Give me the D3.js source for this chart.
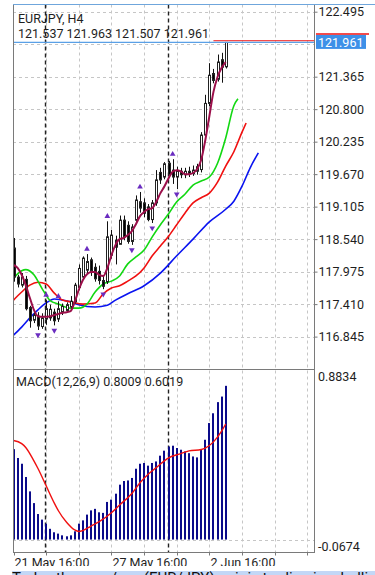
<!DOCTYPE html>
<html>
<head>
<meta charset="utf-8">
<script src="https://cdnjs.cloudflare.com/ajax/libs/d3/7.8.5/d3.min.js"></script>
<style>
  html, body { margin: 0; padding: 0; background: #fff; overflow: hidden; }
  svg { display: block; font-family: Roboto, "Noto Sans", sans-serif; }
</style>
</head>
<body>
<div id="chart"></div>
<script>
// header texts
var symbolLabel = 'EURJPY, H4';
var quoteLabel  = '121.537 121.963 121.507 121.961';
var macdLabel   = 'MACD(12,26,9) 0.8009 0.6019';
var newsLine    = 'Today the euro/yen (EUR/JPY) pair is trading in a bullish direction after';

// H4 candles, bar 0 = 21 May 16:00
var opens  = [118.385,117.88,117.74,117.84,117.35,117.13,117.20,117.02,117.15,117.17,
              117.27,117.15,117.28,117.30,117.36,117.45,117.70,117.88,118.00,118.18,
              118.05,117.98,117.82,117.80,118.26,118.52,118.45,118.87,118.78,118.50,
              118.87,119.19,119.17,119.10,118.88,119.17,119.70,119.62,119.86,119.74,
              119.62,119.72,119.66,119.72,119.68,119.72,119.75,120.35,120.90,121.42,
              121.32,121.66,121.537];
var highs  = [118.56,117.92,117.95,117.90,117.38,117.27,117.27,117.25,117.48,117.40,
              117.33,117.46,117.42,117.44,117.55,117.78,118.10,118.24,118.28,118.22,
              118.12,118.08,117.90,118.85,118.70,118.60,118.95,118.95,118.85,118.80,
              119.30,119.36,119.25,119.15,119.22,119.74,119.78,119.88,119.90,119.93,
              119.80,119.78,119.78,119.80,119.82,119.85,120.40,121.05,121.60,121.50,
              121.75,121.78,121.963];
var lows   = [117.80,117.70,117.70,117.30,117.00,117.08,116.96,116.98,117.05,117.12,
              117.04,117.10,117.22,117.26,117.32,117.42,117.65,117.83,117.95,117.90,
              117.80,117.75,117.67,117.76,118.20,118.10,118.45,118.52,118.46,118.44,
              118.80,119.00,118.92,118.85,118.82,119.12,119.50,119.58,119.60,119.50,
              119.41,119.60,119.60,119.62,119.64,119.66,119.70,120.30,120.85,121.25,
              121.28,121.26,121.507];
var closes = [117.88,117.76,117.88,117.33,117.12,117.22,117.03,117.17,117.33,117.32,
              117.12,117.33,117.37,117.40,117.46,117.74,118.03,118.21,118.15,117.98,
              117.85,117.82,117.72,118.58,118.61,118.40,118.87,118.58,118.50,118.75,
              119.22,119.08,118.99,118.88,119.17,119.57,119.57,119.85,119.66,119.62,
              119.72,119.66,119.72,119.68,119.74,119.80,120.35,120.90,121.39,121.30,
              121.62,121.53,121.961];

// smoothed close line (one value per bar)
var trendLine = [118.09,118.04,117.92,117.74,117.52,117.31,117.20,117.19,117.19,117.20,
                 117.22,117.24,117.26,117.27,117.29,117.45,117.66,117.83,117.93,117.97,
                 117.97,117.92,117.90,118.04,118.26,118.44,118.54,118.56,118.61,118.68,
                 118.80,118.94,119.01,119.06,119.08,119.19,119.34,119.46,119.60,119.71,
                 119.74,119.72,119.67,119.67,119.69,119.76,119.92,120.26,120.68,121.10,
                 121.36,121.52,121.62];

// alligator lines, [bar, price] (shifted forward past the last bar)
var jawLine   = [[0,116.87],[2,117.01],[4,117.17],[6,117.31],[8,117.43],[10,117.50],[12,117.48],
                 [14,117.45],[16,117.40],[20,117.36],[23,117.39],[25,117.48],[28,117.59],[32,117.73],
                 [36,117.95],[40,118.25],[44,118.54],[48,118.84],[52,119.06],[54,119.20],[56,119.46],
                 [58,119.78],[60,120.04]];
var teethLine = [[0,117.48],[2,117.62],[4,117.74],[6,117.79],[8,117.76],[10,117.60],[12,117.48],
                 [14,117.45],[17,117.41],[20,117.43],[22,117.59],[24,117.69],[26,117.73],[28,117.81],
                 [30,117.90],[32,118.04],[34,118.25],[36,118.42],[38,118.59],[40,118.79],[42,118.99],
                 [44,119.17],[46,119.26],[48,119.34],[50,119.53],[52,119.81],[54,120.06],[56,120.40],
                 [57,120.56]];
var lipsLine  = [[0,117.86],[2,117.99],[3,118.01],[5,117.92],[7,117.68],[9,117.47],[11,117.41],
                 [14,117.34],[16,117.34],[18,117.41],[20,117.62],[22,117.76],[24,117.81],[26,117.90],
                 [28,118.11],[30,118.23],[32,118.35],[34,118.58],[36,118.79],[38,118.98],[40,119.19],
                 [42,119.32],[44,119.48],[46,119.55],[48,119.62],[50,119.86],[52,120.30],[54,120.86],
                 [55,120.98]];

// fractal bars
var upFractals   = [8, 11, 18, 23, 31, 39];
var downFractals = [6, 10, 22, 29, 34, 40];

// MACD histogram (one per bar) and signal [bar, value]
var macdHist = [0.471,0.425,0.395,0.326,0.251,0.190,0.133,0.104,0.083,0.056,
                0.038,0.031,0.022,0.017,0.022,0.043,0.083,0.100,0.130,0.152,
                0.160,0.142,0.139,0.196,0.208,0.239,0.286,0.305,0.308,0.321,
                0.369,0.395,0.399,0.385,0.399,0.407,0.437,0.463,0.485,0.489,
                0.477,0.468,0.459,0.450,0.433,0.428,0.468,0.520,0.607,0.658,
                0.716,0.745,0.8009];
var macdSignal = [[0,0.516],[2,0.500],[3,0.480],[5,0.410],[6,0.370],[8,0.280],[10,0.190],
                  [11,0.150],[13,0.090],[15,0.050],[16,0.042],[17,0.047],[19,0.070],[21,0.093],
                  [24,0.140],[26,0.180],[29,0.240],[31,0.296],[33,0.340],[35,0.375],[38,0.426],
                  [41,0.448],[43,0.462],[46,0.469],[47,0.476],[49,0.509],[51,0.565],[52,0.6019]];

// axes
var priceGrid    = [122.495,121.930,121.365,120.800,120.235,119.670,119.105,118.540,117.975,117.410,116.845];
var priceLabels  = [122.495,121.365,120.800,120.235,119.670,119.105,118.540,117.975,117.410,116.845];
var macdTicks    = [0.8834, -0.0674];
var timeTickBars = [0, 24, 48];
var timeTickText = ['21 May 16:00', '27 May 16:00', '2 Jun 16:00'];
var gridBars     = [8, 16, 24, 32, 40, 48, 56, 64, 72];
var weekBars     = [7.75, 37.75];
var bidPrice = 121.961, askPrice = 121.990;


function mtChart () {

  //config options
  var width   = 375
    , height  = 575
    , left    = 13
    , right   = 314
    , top     = 4.5
    , split   = 369.5
    , bottom  = 552.5
    , gridCol = '#c6c6c6'
    , axisCol = '#7a7a7a'
    , txtCol  = '#1e1e1e'
  ;

  function chart(selection) {

    selection.each(function () {

      var svg = d3.select(this).append('svg')
          .attr('width', width)
          .attr('height', height);

      var x = d3.scaleLinear().domain([0, 52]).range([13.5, 225.7]);
      var y = d3.scaleLinear().domain([116.845, 122.495]).range([336.6, 11.7]);
      var ym = d3.scaleLinear().domain([-0.0674, 0.8834]).range([bottom, split + 0.5]);

      // grid
      var grid = svg.append('g')
          .attr('stroke', gridCol)
          .attr('stroke-dasharray', '3,3');
      grid.selectAll('line.h').data(priceGrid).enter().append('line')
          .attr('x1', left).attr('x2', right)
          .attr('y1', function (d) { return Math.round(y(d)) + 0.5; })
          .attr('y2', function (d) { return Math.round(y(d)) + 0.5; });
      grid.append('line')
          .attr('x1', left).attr('x2', right)
          .attr('y1', Math.round(ym(0)) + 0.5).attr('y2', Math.round(ym(0)) + 0.5);
      grid.selectAll('line.v').data(gridBars).enter().append('line')
          .attr('x1', function (d) { return Math.round(x(d)) + 0.5; })
          .attr('x2', function (d) { return Math.round(x(d)) + 0.5; })
          .attr('y1', top).attr('y2', bottom);

      // week separators
      svg.selectAll('line.sep').data(weekBars).enter().append('line')
          .attr('x1', function (d) { return Math.round(x(d)) + 0.5; })
          .attr('x2', function (d) { return Math.round(x(d)) + 0.5; })
          .attr('y1', top).attr('y2', bottom)
          .attr('stroke', '#222')
          .attr('stroke-width', 1.4)
          .attr('stroke-dasharray', '4,3');

      // alligator + trend line
      var line = d3.line()
          .x(function (d) { return x(d[0]); })
          .y(function (d) { return y(d[1]); })
          .curve(d3.curveMonotoneX);
      [[jawLine, '#0a14f0'], [teethLine, '#f01010'], [lipsLine, '#12d812']].forEach(function (l) {
        svg.append('path').datum(l[0])
            .attr('d', line)
            .attr('fill', 'none')
            .attr('stroke', l[1])
            .attr('stroke-width', 1.6);
      });

      // candles
      var bars = svg.append('g').selectAll('g').data(opens).enter().append('g');
      bars.append('line')
          .attr('x1', function (d, i) { return Math.round(x(i)) + 0.5; })
          .attr('x2', function (d, i) { return Math.round(x(i)) + 0.5; })
          .attr('y1', function (d, i) { return y(highs[i]); })
          .attr('y2', function (d, i) { return y(lows[i]); })
          .attr('stroke', '#111');
      bars.append('rect')
          .attr('x', function (d, i) { return Math.round(x(i)) - 0.5; })
          .attr('width', 2)
          .attr('y', function (d, i) { return y(Math.max(d, closes[i])); })
          .attr('height', function (d, i) { return Math.max(1, Math.abs(y(d) - y(closes[i]))); })
          .attr('fill', function (d, i) { return closes[i] >= d ? '#fff' : '#000'; })
          .attr('stroke', '#222')
          .attr('stroke-width', 1);

      svg.append('path').datum(trendLine)
          .attr('d', d3.line()
              .x(function (d, i) { return x(i); })
              .y(function (d) { return y(d); })
              .curve(d3.curveMonotoneX))
          .attr('fill', 'none')
          .attr('stroke', '#9b0f4a')
          .attr('stroke-width', 2);

      // fractals
      var tri = d3.symbol().type(d3.symbolTriangle).size(14);
      svg.selectAll('path.fu').data(upFractals).enter().append('path')
          .attr('d', tri)
          .attr('fill', '#6a2cc0')
          .attr('transform', function (d) { return 'translate(' + x(d) + ',' + (y(highs[d]) - 5) + ')'; });
      svg.selectAll('path.fd').data(downFractals).enter().append('path')
          .attr('d', tri)
          .attr('fill', '#6a2cc0')
          .attr('transform', function (d) { return 'translate(' + x(d) + ',' + (y(lows[d]) + 5) + ') rotate(180)'; });

      // price lines
      svg.append('line')
          .attr('x1', x(49)).attr('x2', right)
          .attr('y1', y(askPrice)).attr('y2', y(askPrice))
          .attr('stroke', '#f01010').attr('stroke-width', 1.2);
      svg.append('line')
          .attr('x1', left).attr('x2', right)
          .attr('y1', y(bidPrice)).attr('y2', y(bidPrice))
          .attr('stroke', '#5aa0e6').attr('stroke-width', 1.2);

      // MACD
      svg.append('g').selectAll('rect').data(macdHist).enter().append('rect')
          .attr('x', function (d, i) { return Math.round(x(i)) - 1; })
          .attr('width', 2)
          .attr('y', function (d) { return ym(d); })
          .attr('height', function (d) { return ym(0) - ym(d); })
          .attr('fill', '#0b0b8a');
      svg.append('path').datum(macdSignal)
          .attr('d', d3.line()
              .x(function (d) { return x(d[0]); })
              .y(function (d) { return ym(d[1]); })
              .curve(d3.curveMonotoneX))
          .attr('fill', 'none')
          .attr('stroke', '#f01010')
          .attr('stroke-width', 1.4);

      // frames
      var frame = svg.append('g').attr('stroke', axisCol);
      frame.append('line').attr('x1', left + 0.5).attr('x2', left + 0.5).attr('y1', top).attr('y2', bottom);
      frame.append('line').attr('x1', right + 0.5).attr('x2', right + 0.5).attr('y1', top).attr('y2', bottom);
      frame.append('line').attr('x1', left).attr('x2', right + 1).attr('y1', split).attr('y2', split);
      frame.append('line').attr('x1', left).attr('x2', right + 1).attr('y1', bottom).attr('y2', bottom);
      svg.append('line')
          .attr('x1', left).attr('x2', width)
          .attr('y1', top).attr('y2', top)
          .attr('stroke', '#6fa6dc').attr('stroke-width', 1.2);

      // price axis
      var pa = svg.append('g')
          .attr('transform', 'translate(' + (right + 0.5) + ',0)')
          .call(d3.axisRight(y).tickValues(priceLabels).tickSize(3).tickFormat(d3.format('.3f')));
      pa.select('.domain').remove();
      pa.selectAll('line').attr('stroke', axisCol);
      pa.selectAll('text')
          .attr('x', 4)
          .attr('fill', txtCol)
          .style('font-size', '12.5px')
          .style('font-family', 'Roboto, sans-serif');

      // current price box
      svg.append('rect')
          .attr('x', right + 2).attr('y', y(bidPrice) - 7.5)
          .attr('width', 50).attr('height', 14)
          .attr('fill', '#3d90e8');
      svg.append('line')
          .attr('x1', right + 2).attr('x2', right + 55)
          .attr('y1', y(bidPrice) - 8.5).attr('y2', y(bidPrice) - 8.5)
          .attr('stroke', '#f01010').attr('stroke-width', 1.5);
      svg.append('text')
          .attr('x', right + 4).attr('y', y(bidPrice))
          .attr('dy', '0.36em')
          .attr('fill', '#fff')
          .style('font-size', '12.5px')
          .text(d3.format('.3f')(bidPrice));

      // MACD axis labels
      svg.append('text')
          .attr('x', right + 4).attr('y', ym(macdTicks[0]) + 11)
          .attr('fill', txtCol).style('font-size', '12.5px')
          .text(macdTicks[0].toFixed(4));
      svg.append('text')
          .attr('x', right + 4).attr('y', ym(macdTicks[1]) - 2)
          .attr('fill', txtCol).style('font-size', '12.5px')
          .text(macdTicks[1].toFixed(4));

      // time axis
      svg.append('clipPath').attr('id', 'timeclip')
        .append('rect').attr('x', 0).attr('y', bottom).attr('width', width).attr('height', 13.5);
      var ta = svg.append('g').attr('clip-path', 'url(#timeclip)');
      ta.selectAll('line').data(gridBars.concat([0])).enter().append('line')
          .attr('x1', function (d) { return Math.round(x(d)) + 0.5; })
          .attr('x2', function (d) { return Math.round(x(d)) + 0.5; })
          .attr('y1', bottom).attr('y2', bottom + 3)
          .attr('stroke', axisCol);
      ta.selectAll('text').data(timeTickBars).enter().append('text')
          .attr('x', function (d) { return x(d) + 1; })
          .attr('y', 566.5)
          .attr('fill', txtCol)
          .style('font-size', '12.5px')
          .text(function (d, i) { return timeTickText[i]; });

      // header texts
      svg.append('text').attr('x', 18).attr('y', 22.5)
          .attr('fill', txtCol).style('font-size', '12.5px').text(symbolLabel);
      svg.append('text').attr('x', 18).attr('y', 38)
          .attr('fill', txtCol).style('font-size', '12.5px').text(quoteLabel);
      svg.append('text').attr('x', 16).attr('y', 386)
          .attr('fill', txtCol).style('font-size', '12.5px').text(macdLabel);

      // article strip below the chart
      svg.append('rect')
          .attr('x', 12).attr('y', 571).attr('width', width - 12).attr('height', 4)
          .attr('fill', '#c3d7f6');
      svg.append('text').attr('x', 12).attr('y', 582.5)
          .attr('fill', '#111').style('font-size', '15px').text(newsLine);
    });

  }

  chart.width = function(value) {
    if (!arguments.length) return width;
    width = value;
    return chart;
  };

  chart.height = function(value) {
    if (!arguments.length) return height;
    height = value;
    return chart;
  };

  return chart;
}

d3.select('#chart').call(mtChart());
</script>
</body>
</html>
